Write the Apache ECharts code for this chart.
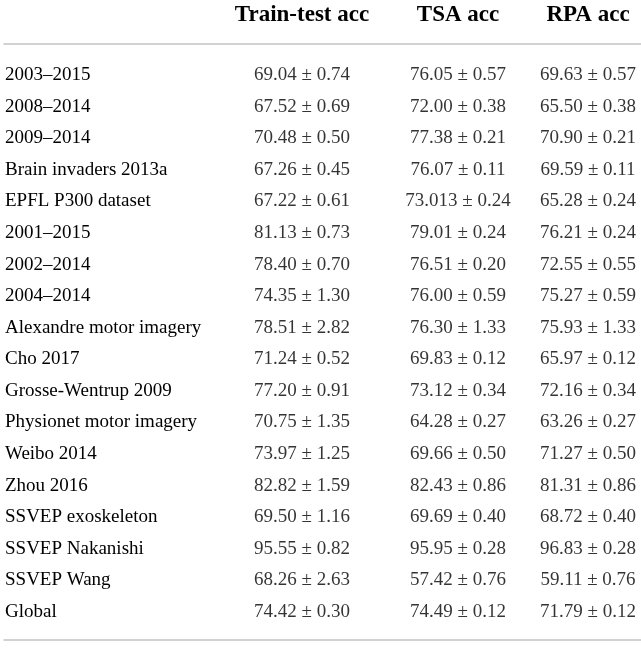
<!DOCTYPE html>
<html>
<head>
<meta charset="utf-8">
<script src="https://cdn.jsdelivr.net/npm/echarts@6/dist/echarts.min.js"></script>
<style>
  html, body { margin: 0; padding: 0; background: #fff; }
  #main { width: 641px; height: 657px; }
</style>
</head>
<body>
<div id="main"></div>
<script>
// 行标签（数据集）
var rowLabels = [
    "2003\u20132015", "2008\u20132014", "2009\u20132014", "Brain invaders 2013a",
    "EPFL P300 dataset", "2001\u20132015", "2002\u20132014", "2004\u20132014",
    "Alexandre motor imagery", "Cho 2017", "Grosse-Wentrup 2009", "Physionet motor imagery",
    "Weibo 2014", "Zhou 2016", "SSVEP exoskeleton", "SSVEP Nakanishi", "SSVEP Wang", "Global"
];

// 列标题
var columns = ["Train-test acc", "TSA acc", "RPA acc"];

// 各列均值 / 标准差
var trainMean = ["69.04", "67.52", "70.48", "67.26", "67.22", "81.13", "78.40", "74.35", "78.51", "71.24", "77.20", "70.75", "73.97", "82.82", "69.50", "95.55", "68.26", "74.42"];
var trainStd  = ["0.74", "0.69", "0.50", "0.45", "0.61", "0.73", "0.70", "1.30", "2.82", "0.52", "0.91", "1.35", "1.25", "1.59", "1.16", "0.82", "2.63", "0.30"];
var tsaMean   = ["76.05", "72.00", "77.38", "76.07", "73.013", "79.01", "76.51", "76.00", "76.30", "69.83", "73.12", "64.28", "69.66", "82.43", "69.69", "95.95", "57.42", "74.49"];
var tsaStd    = ["0.57", "0.38", "0.21", "0.11", "0.24", "0.24", "0.20", "0.59", "1.33", "0.12", "0.34", "0.27", "0.50", "0.86", "0.40", "0.28", "0.76", "0.12"];
var rpaMean   = ["69.63", "65.50", "70.90", "69.59", "65.28", "76.21", "72.55", "75.27", "75.93", "65.97", "72.16", "63.26", "71.27", "81.31", "68.72", "96.83", "59.11", "71.79"];
var rpaStd    = ["0.57", "0.38", "0.21", "0.11", "0.24", "0.24", "0.55", "0.59", "1.33", "0.12", "0.34", "0.27", "0.50", "0.86", "0.40", "0.28", "0.76", "0.12"];

// 列中心位置（版面）
var colCenter = [302, 458, 588];

var FONT = "'Liberation Serif', 'Times New Roman', serif";
var LINE = '#c4c4c4';
var INK = '#000000';

function cellSeries(c, mean, std) {
    return {
        type: 'scatter',
        name: columns[c],
        silent: true,
        symbolSize: 1,
        itemStyle: { color: 'transparent' },
        label: {
            show: true,
            position: 'inside',
            color: INK,
            fontFamily: FONT,
            fontSize: 19,
            formatter: function (p) {
                return mean[p.dataIndex] + ' \u00b1 ' + std[p.dataIndex];
            }
        },
        data: rowLabels.map(function (r, i) { return [colCenter[c], i]; })
    };
}

var chart = echarts.init(document.getElementById('main'));
var option = {
    backgroundColor: '#ffffff',
    animation: false,
    grid: { left: 4, right: 0, top: 75, bottom: 45 },
    xAxis: [{
        // 表头 + 上横线
        type: 'value', position: 'top', offset: 31,
        min: 4, max: 641,
        axisLine: { show: true, lineStyle: { color: LINE, width: 1.5 } },
        axisTick: { show: false },
        splitLine: { show: false },
        axisLabel: {
            customValues: colCenter,
            margin: 17,
            color: INK,
            fontFamily: FONT,
            fontWeight: 'bold',
            fontSize: 23,
            formatter: function (v) { return columns[colCenter.indexOf(v)]; }
        }
    }, {
        // 下横线
        type: 'value', position: 'bottom', offset: 28,
        min: 4, max: 641,
        axisLine: { show: true, lineStyle: { color: LINE, width: 1.5 } },
        axisTick: { show: false },
        splitLine: { show: false },
        axisLabel: { show: false }
    }],
    yAxis: {
        type: 'category',
        inverse: true,
        boundaryGap: false,
        data: rowLabels,
        axisLine: { show: false },
        axisTick: { show: false },
        splitLine: { show: false },
        axisLabel: {
            inside: true,
            margin: 1,
            color: INK,
            fontFamily: FONT,
            fontSize: 19
        }
    },
    series: [
        cellSeries(0, trainMean, trainStd),
        cellSeries(1, tsaMean, tsaStd),
        cellSeries(2, rpaMean, rpaStd)
    ]
};
chart.setOption(option);
</script>
</body>
</html>
